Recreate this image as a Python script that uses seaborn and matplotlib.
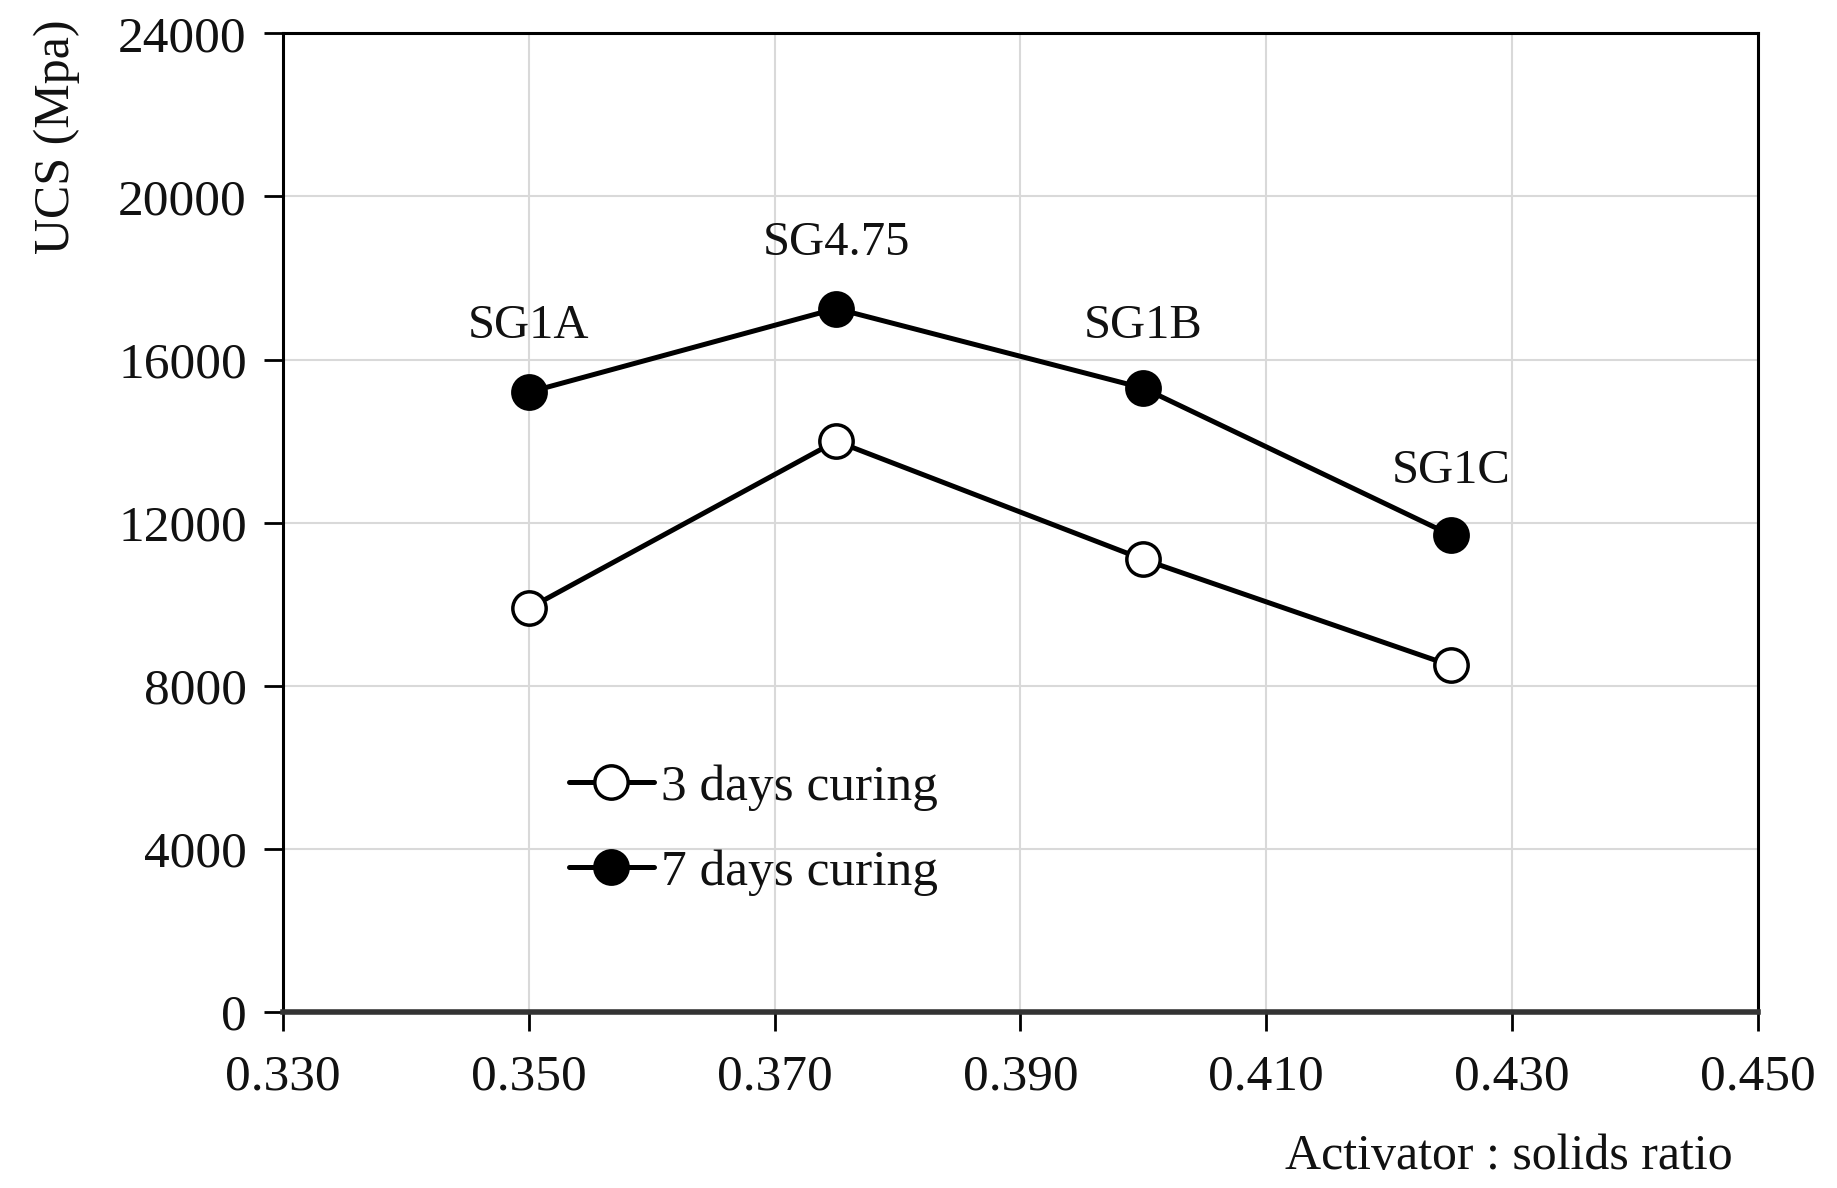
import matplotlib
matplotlib.use("Agg")
import matplotlib.pyplot as plt
import seaborn as sns
import pandas as pd

ratio = [0.350, 0.375, 0.400, 0.425]
mix_labels = ["SG1A", "SG4.75", "SG1B", "SG1C"]
ucs_3days = [9900, 14000, 11100, 8500]
ucs_7days = [15200, 17250, 15300, 11700]
label_y = [16830, 18870, 16830, 13280]
series_names = ["3 days curing", "7 days curing"]
x_ticks = [0.330, 0.350, 0.370, 0.390, 0.410, 0.430, 0.450]
y_ticks = [0, 4000, 8000, 12000, 16000, 20000, 24000]

sns.set_theme(style="white")
plt.rcParams['font.family'] = ['Liberation Serif', 'DejaVu Serif']

df3 = pd.DataFrame({"ratio": ratio, "ucs": ucs_3days})
df7 = pd.DataFrame({"ratio": ratio, "ucs": ucs_7days})

fig = plt.figure(figsize=(18.37, 11.88), dpi=100)
ax = fig.add_axes([0.154, 0.148, 0.803, 0.824])

sns.lineplot(data=df3, x="ratio", y="ucs", ax=ax, color="black", lw=3.6,
             marker="o", markersize=24, markerfacecolor="white",
             markeredgecolor="black", markeredgewidth=2.5, label=series_names[0], zorder=3)
sns.lineplot(data=df7, x="ratio", y="ucs", ax=ax, color="black", lw=3.6,
             marker="o", markersize=24, markerfacecolor="black",
             markeredgecolor="black", markeredgewidth=2.5, label=series_names[1], zorder=3)

for xv, yv, t in zip(ratio, label_y, mix_labels):
    ax.text(xv, yv, t, ha="center", va="center", fontsize=35, color="#111111")

ax.set_xlim(0.330, 0.450)
ax.set_ylim(0, 24000)
ax.set_xticks(x_ticks)
ax.set_xticklabels([f"{v:.3f}" for v in x_ticks])
ax.set_yticks(y_ticks)
ax.set_yticklabels([str(v) for v in y_ticks])
ax.grid(True, color="#d9d9d9", lw=1.5)
ax.set_axisbelow(True)
for s in ax.spines.values():
    s.set_color("black")
    s.set_linewidth(2.2)
ax.spines["bottom"].set_linewidth(4)
ax.spines["bottom"].set_color("#333333")
ax.tick_params(axis="both", which="major", bottom=True, left=True, direction="out",
               length=14, width=2, color="black",
               labelsize=37, labelcolor="#111111", pad=12)
ax.tick_params(axis="x", pad=16)

ax.set_xlabel("")
ax.set_ylabel("")
fig.text(0.031, 0.885, "UCS (Mpa)", rotation=90, ha="center", va="center", fontsize=36, color="#111111")
fig.text(0.943, 0.007, "Activator : solids ratio", ha="right", va="bottom", fontsize=36, color="#111111")

leg = ax.legend(loc="upper left", bbox_to_anchor=(0.18, 0.275), frameon=False,
                fontsize=37, handlelength=1.65, handletextpad=0.15, labelspacing=0.75,
                borderaxespad=0)
for t in leg.get_texts():
    t.set_color("#111111")

fig.savefig("out.png", dpi=100)
